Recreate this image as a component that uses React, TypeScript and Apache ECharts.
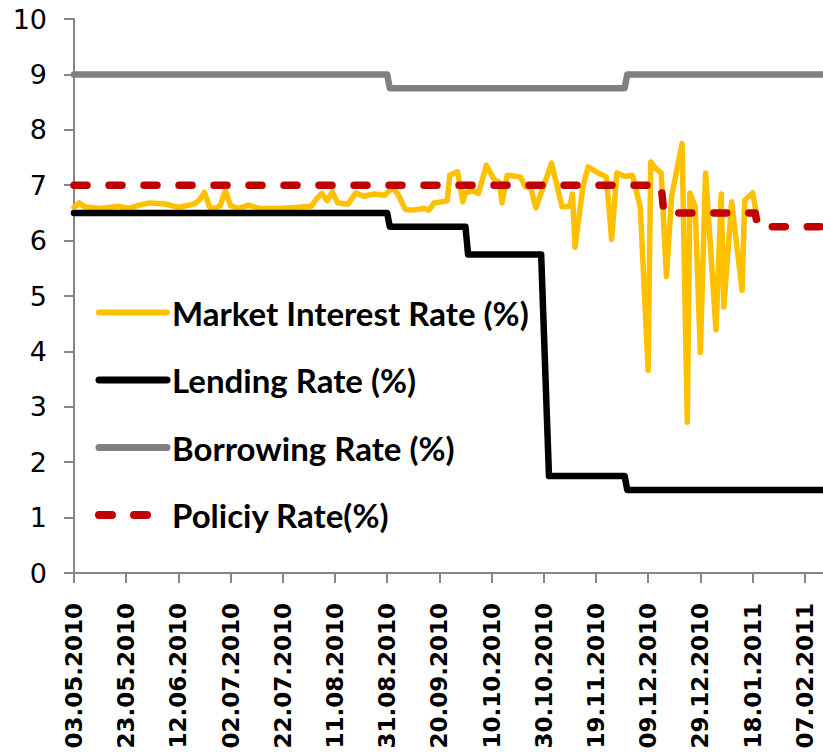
import React, { useEffect, useRef } from "react";
import * as echarts from "echarts";

// x values are day offsets from 03.05.2010
const xTickLabels = [
  "03.05.2010", "23.05.2010", "12.06.2010", "02.07.2010", "22.07.2010",
  "11.08.2010", "31.08.2010", "20.09.2010", "10.10.2010", "30.10.2010",
  "19.11.2010", "09.12.2010", "29.12.2010", "18.01.2011", "07.02.2011",
];

const seriesNames = [
  "Market Interest Rate (%)",
  "Lending Rate (%)",
  "Borrowing Rate (%)",
  "Policiy Rate(%)",
];

const marketDays = [
  0, 2, 4, 10, 17, 21, 25, 29, 35, 40, 46, 48, 50, 52, 54, 56, 58, 60, 63, 67,
  71, 79, 86, 91, 93, 95, 97, 99, 101, 105, 108, 111, 115, 119, 122, 124, 127,
  130, 134, 136, 138, 141, 143, 144, 147, 149, 150, 153, 155, 158, 161, 163,
  164, 166, 169, 171, 173, 175, 177, 183, 187, 190, 191, 192, 195, 197, 201,
  204, 206, 208, 211, 214, 217, 220, 221, 223, 225, 227, 229, 233, 235, 236,
  238, 240, 242, 246, 248, 249, 252, 256, 257, 260, 262,
];
const marketValues = [
  6.6, 6.68, 6.61, 6.58, 6.62, 6.58, 6.64, 6.68, 6.66, 6.6, 6.66, 6.73, 6.87,
  6.6, 6.58, 6.63, 6.9, 6.63, 6.58, 6.64, 6.58, 6.58, 6.6, 6.62, 6.76, 6.85,
  6.72, 6.88, 6.68, 6.66, 6.86, 6.8, 6.84, 6.82, 6.95, 6.85, 6.56, 6.55, 6.58,
  6.55, 6.68, 6.7, 6.72, 7.18, 7.24, 6.7, 6.86, 6.9, 6.85, 7.36, 7.1, 7.05,
  6.68, 7.18, 7.16, 7.15, 6.97, 6.95, 6.59, 7.4, 6.61, 6.62, 6.84, 5.88, 6.97,
  7.33, 7.22, 7.15, 6.02, 7.22, 7.16, 7.18, 6.6, 3.66, 7.42, 7.3, 7.22, 5.35,
  6.8, 7.75, 2.72, 6.86, 6.62, 3.98, 7.22, 4.39, 6.84, 4.8, 6.7, 5.1, 6.73,
  6.86, 6.37,
];

const lendingDays = [0, 120, 121, 150, 151, 179, 182, 211, 212, 287];
const lendingValues = [6.5, 6.5, 6.25, 6.25, 5.75, 5.75, 1.75, 1.75, 1.5, 1.5];

const borrowingDays = [0, 120, 121, 211, 212, 287];
const borrowingValues = [9, 9, 8.75, 8.75, 9, 9];

const policyDays = [0, 225, 226, 261, 262, 287];
const policyValues = [7, 7, 6.5, 6.5, 6.25, 6.25];

const pairs = (d: number[], v: number[]) => d.map((x, i) => [x, v[i]]);

const axisGray = "#868686";
const legendFont = "Lato, sans-serif";

export default function App() {
  const ref = useRef<HTMLDivElement>(null);
  useEffect(() => {
    const chart = echarts.init(ref.current as HTMLDivElement, null, { renderer: "svg" });
    const colors = ["#FFC000", "#000000", "#808080", "#C00000"];
    const widths = [5.5, 6.5, 6.5, 7.5];
    const types: any[] = ["solid", "solid", "solid", [13, 22]];
    const dataSets = [
      pairs(marketDays, marketValues),
      pairs(lendingDays, lendingValues),
      pairs(borrowingDays, borrowingValues),
      pairs(policyDays, policyValues),
    ];
    chart.setOption({
      animation: false,
      grid: { left: 74, right: 0, top: 19, bottom: 180, outerBoundsMode: "none" },
      legend: {
        orient: "vertical",
        left: 95,
        top: 296,
        padding: 0,
        itemWidth: 68,
        itemHeight: 30,
        itemGap: 34.5,
        selectedMode: false,
        itemStyle: { opacity: 0 },
        textStyle: {
          fontFamily: legendFont,
          fontSize: 33,
          fontWeight: "bold",
          color: "#000",
        },
        data: seriesNames.map((n, i) => ({
          name: n,
          itemStyle: { opacity: 0 },
          lineStyle: { color: colors[i], width: widths[i] + 0.5, type: types[i], cap: "round", opacity: 1 },
        })),
      },
      xAxis: {
        type: "value",
        min: 0,
        max: 287,
        interval: 20,
        splitLine: { show: false },
        axisLine: { show: true, lineStyle: { color: axisGray, width: 2 } },
        axisTick: { show: true, length: 10, lineStyle: { color: axisGray, width: 2 } },
        axisLabel: {
          rotate: 90,
          margin: 30,
          fontSize: 23,
          fontWeight: "bold",
          fontFamily: "DejaVu Sans",
          color: "#000",
          showMaxLabel: false,
          formatter: (v: number) => xTickLabels[Math.round(v / 20)] ?? "",
        },
      },
      yAxis: {
        type: "value",
        min: 0,
        max: 10,
        interval: 1,
        splitLine: { show: false },
        axisLine: { show: true, lineStyle: { color: axisGray, width: 2 } },
        axisTick: { show: true, length: 10, lineStyle: { color: axisGray, width: 2 } },
        axisLabel: {
          margin: 27,
          fontSize: 27,
          fontFamily: "DejaVu Sans",
          color: "#000",
        },
      },
      series: seriesNames.map((n, i) => ({
        name: n,
        type: "line",
        data: dataSets[i],
        symbol: "none",
        showSymbol: false,
        silent: true,
        z: 2 + i,
        itemStyle: { color: colors[i] },
        lineStyle: { color: colors[i], width: widths[i], type: types[i], cap: "round", join: "round" },
      })),
    });
    return () => chart.dispose();
  }, []);
  return (
    <div
      ref={ref}
      style={{ position: "absolute", left: 0, top: 0, width: 823, height: 753 }}
    />
  );
}
